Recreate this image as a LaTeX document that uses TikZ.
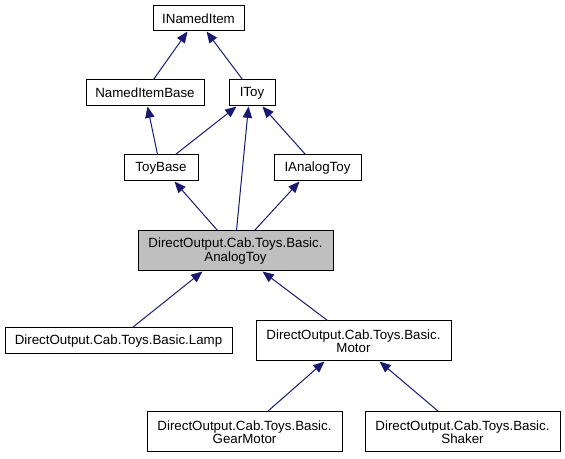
\documentclass[tikz,border=0pt]{standalone}
\usepackage{fontspec}
\setmainfont{Liberation Sans}
\usetikzlibrary{arrows.meta,calc}
\definecolor{edgeblue}{HTML}{191970}
\definecolor{hlgray}{HTML}{BFBFBF}
\tikzset{
  cls/.style={draw=black, line width=0.75pt, fill=white, inner sep=0pt, align=center,
    font=\fontsize{10}{10}\selectfont},
  hl/.style={cls, fill=hlgray},
  edge/.style={draw=edgeblue, line width=0.75pt, -{Triangle[length=8.5pt,width=7pt]}},
}
\begin{document}
\begin{tikzpicture}[x=0.75pt,y=-0.75pt]
\useasboundingbox (0,0) rectangle (565,459);
\node[cls, minimum width=91*0.75pt, minimum height=25*0.75pt] (ini) at (198.5,18.5) {INamedItem};
\node[cls, minimum width=118*0.75pt, minimum height=26*0.75pt] (nib) at (145,93) {NamedItemBase};
\node[cls, minimum width=46*0.75pt, minimum height=26*0.75pt] (itoy) at (252,93) {IToy};
\node[cls, minimum width=74*0.75pt, minimum height=26*0.75pt] (tb) at (161,168) {ToyBase};
\node[cls, minimum width=87*0.75pt, minimum height=26*0.75pt] (iat) at (317.5,168) {IAnalogToy};
\node[hl, minimum width=195*0.75pt, minimum height=40*0.75pt] (at) at (235.5,251) {DirectOutput.Cab.Toys.Basic.\\AnalogToy};
\node[cls, minimum width=227*0.75pt, minimum height=26*0.75pt] (lamp) at (118.5,341) {DirectOutput.Cab.Toys.Basic.Lamp};
\node[cls, minimum width=195*0.75pt, minimum height=40*0.75pt] (motor) at (353.5,341) {DirectOutput.Cab.Toys.Basic.\\Motor};
\node[cls, minimum width=195*0.75pt, minimum height=40*0.75pt] (gm) at (244.5,432) {DirectOutput.Cab.Toys.Basic.\\GearMotor};
\node[cls, minimum width=195*0.75pt, minimum height=40*0.75pt] (sh) at (462.5,432) {DirectOutput.Cab.Toys.Basic.\\Shaker};
% edges: child -> parent
\draw[edge] ($(nib.north west)+(68,0)$) -- ($(ini.south west)+(35,0)$);
\draw[edge] ($(itoy.north west)+(14,0)$) -- ($(ini.south west)+(54,0)$);
\draw[edge] ($(tb.north west)+(34,0)$) -- ($(nib.south west)+(62,0)$);
\draw[edge] ($(tb.north west)+(52,0)$) -- ($(itoy.south west)+(8,0)$);
\draw[edge] ($(iat.north west)+(32,0)$) -- ($(itoy.south west)+(34,0)$);
\draw[edge] ($(at.north west)+(80,0)$) -- ($(tb.south west)+(51,0)$);
\draw[edge] ($(at.north west)+(99,0)$) -- ($(itoy.south west)+(20,0)$);
\draw[edge] ($(at.north west)+(117,0)$) -- ($(iat.south west)+(26,0)$);
\draw[edge] ($(lamp.north west)+(128,0)$) -- ($(at.south west)+(65,0)$);
\draw[edge] ($(motor.north west)+(72,0)$) -- ($(at.south west)+(125,0)$);
\draw[edge] ($(gm.north west)+(121,0)$) -- ($(motor.south west)+(69,0)$);
\draw[edge] ($(sh.north west)+(74,0)$) -- ($(motor.south west)+(124,0)$);
\end{tikzpicture}
\end{document}
